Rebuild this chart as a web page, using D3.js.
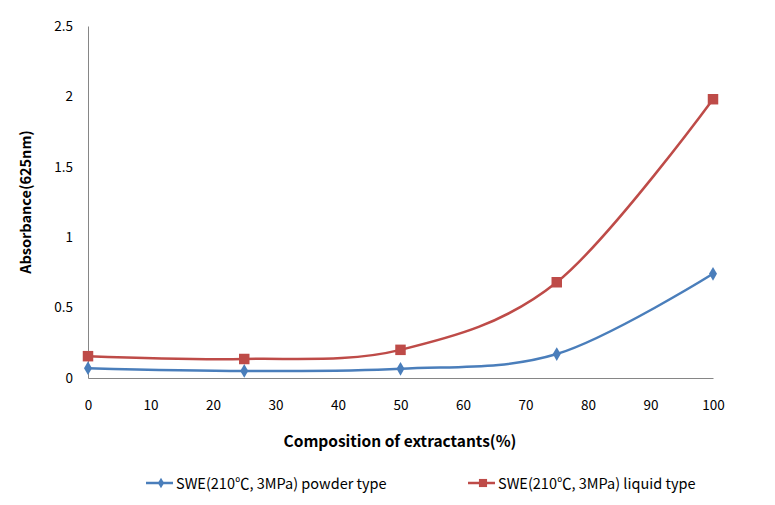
<!DOCTYPE html>
<html><head><meta charset="utf-8">
<script src="https://cdn.jsdelivr.net/npm/d3@7"></script>
<style>body{margin:0;background:#fff;} svg{display:block;font-family:"Noto Sans CJK KR","Noto Sans",sans-serif;}</style>
</head><body>
<svg id="chart" width="775" height="505"></svg>
<script>
const xValues = [0, 25, 50, 75, 100];
const powderValues = [0.07, 0.05, 0.065, 0.17, 0.74];
const liquidValues = [0.155, 0.135, 0.2, 0.68, 1.98];
const seriesNames = ["SWE(210\u2103, 3MPa) powder type", "SWE(210\u2103, 3MPa) liquid type"];
const xTicks = [0,10,20,30,40,50,60,70,80,90,100];
const yTicks = [0,0.5,1,1.5,2,2.5];
const xTitle = "Composition of extractants(%)";
const yTitle = "Absorbance(625nm)";

const svg = d3.select("#chart");
const x = d3.scaleLinear().domain([0,100]).range([88,713]);
const y = d3.scaleLinear().domain([0,2.5]).range([378,26]);
const axisColor = "#868686";

// axes
const xAxis = svg.append("g").attr("transform","translate(0,378)")
  .call(d3.axisBottom(x).tickValues(xTicks).tickSize(0).tickPadding(22).tickFormat(d3.format("d")));
const yAxis = svg.append("g").attr("transform","translate(88,0)")
  .call(d3.axisLeft(y).tickValues(yTicks).tickSize(0).tickPadding(15).tickFormat(d => String(d)));
[xAxis,yAxis].forEach(a=>{
  a.select(".domain").attr("stroke",axisColor).attr("stroke-width",1);
  a.selectAll("text").attr("font-size",13.5).attr("fill","#000").attr("font-family","'Noto Sans CJK KR','Noto Sans',sans-serif");
});

svg.append("text").attr("x",400).attr("y",447).attr("text-anchor","middle")
  .attr("font-size",15.5).attr("font-weight","bold").text(xTitle);
svg.append("text").attr("transform","translate(31,202) rotate(-90)").attr("text-anchor","middle")
  .attr("font-size",14.5).attr("font-weight","bold").text(yTitle);

const line = d3.line().x((d,i)=>x(xValues[i])).y(d=>y(d)).curve(d3.curveCardinal.tension(0));
const series = [
  {vals: powderValues, color:"#4A7EBB", shape: d3.symbolDiamond, size: 55},
  {vals: liquidValues, color:"#BE4B48", shape: d3.symbolSquare, size: 110}
];
series.forEach(s=>{
  svg.append("path").attr("d", line(s.vals)).attr("fill","none").attr("stroke",s.color).attr("stroke-width",2.5);
  svg.selectAll(null).data(s.vals).enter().append("path")
    .attr("transform",(d,i)=>`translate(${x(xValues[i])},${y(d)})`)
    .attr("d", d3.symbol().type(s.shape).size(s.size)).attr("fill",s.color);
});

// legend
const legX = [146, 468];
series.forEach((s,i)=>{
  const g = svg.append("g").attr("transform",`translate(${legX[i]},483)`);
  g.append("line").attr("x1",0).attr("x2",27).attr("stroke",s.color).attr("stroke-width",2.5);
  g.append("path").attr("transform","translate(15,0)").attr("d", d3.symbol().type(s.shape).size(s.size*0.6)).attr("fill",s.color);
  g.append("text").attr("x",30).attr("y",6).attr("font-size",14.5).text(seriesNames[i]);
});
</script>
</body></html>
